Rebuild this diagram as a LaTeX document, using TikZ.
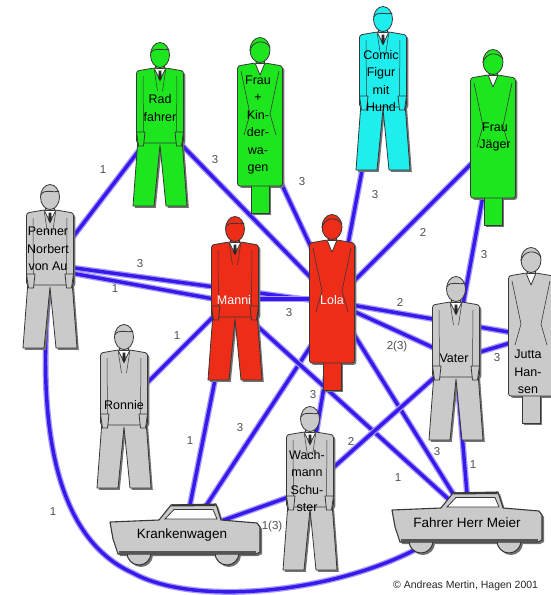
\documentclass[tikz,border=0pt]{standalone}
\usepackage{fontspec}
\setmainfont{Liberation Sans}
\pgfdeclarelayer{bg}
\pgfdeclarelayer{edges}
\pgfsetlayers{bg,edges,main}
\definecolor{figgreen}{RGB}{30,230,30}
\definecolor{figcyan}{RGB}{30,238,238}
\definecolor{figred}{RGB}{238,45,25}
\definecolor{figgray}{RGB}{202,202,202}
\definecolor{outlc}{RGB}{55,55,55}
\definecolor{shadowc}{RGB}{115,115,115}
\definecolor{edgec}{RGB}{55,25,235}
\definecolor{edgehalo}{RGB}{165,155,250}
\definecolor{lblc}{RGB}{80,80,80}
\definecolor{tiec}{RGB}{40,40,40}
\tikzset{
  outl/.style={draw=outlc, line width=0.8pt, line join=round},
  figtext/.style={align=center, inner sep=0pt, text=black,
    font=\fontsize{12.5}{17.5}\selectfont},
  redtext/.style={figtext, text=white},
  cartext/.style={inner sep=0pt, text=black, font=\fontsize{13.5}{15}\selectfont},
  lbl/.style={inner sep=0.5pt, text=lblc, font=\fontsize{11.5}{12}\selectfont},
  edge/.style={draw=edgec, line width=3.4pt,
    preaction={draw=edgehalo, line width=6pt}},
  % man in a suit; origin at the top of the head
  pics/man/.style={code={
    \begin{scope}[shift={(1.8,1.8)}]
      \fill[shadowc] (-22,96) -- (-27,163) -- (-6,163) -- (0,102) -- (6,163) -- (27,163) -- (22,96) -- cycle;
      \fill[shadowc, rounded corners=2.5] (-6,25) -- (-23.5,28) -- (-23.5,100) -- (23.5,100) -- (23.5,28) -- (6,25) -- cycle;
    \end{scope}
    \filldraw[fill=#1, outl] (-22,96) -- (-27,163) -- (-6,163) -- (0,102) -- (6,163) -- (27,163) -- (22,96) -- cycle;
    \filldraw[fill=#1, outl, rounded corners=2.5] (-6,25) -- (-23.5,28) -- (-23.5,100) -- (23.5,100) -- (23.5,28) -- (6,25) -- cycle;
    \draw[outl, line width=0.5pt] (-17,33) -- (-16.5,89) (17,33) -- (16.5,89);
    \draw[outl, line width=0.5pt] (-6,25) -- (-2.5,48) (6,25) -- (2.5,48);
    \filldraw[fill=#1, outl] (-23.5,89) -- (-15,89) -- (-16.5,103) -- (-21.5,103) -- cycle;
    \filldraw[fill=#1, outl] (23.5,89) -- (15,89) -- (16.5,103) -- (21.5,103) -- cycle;
    \filldraw[fill=white, outl] (-6,25) -- (0,37) -- (6,25);
    \fill[tiec] (-1.3,27.5) -- (1.3,27.5) -- (1.7,35) -- (0,38.5) -- (-1.7,35) -- cycle;
    \filldraw[fill=#1, outl] (-4.5,19) rectangle (4.5,25.5);
    \filldraw[fill=#1, outl] (0,12) ellipse [x radius=9.5, y radius=12.5];
    \draw[outl] (-9.3,10) .. controls (-5,3) and (2,8.5) .. (9.2,6);
  }},
  % woman in a dress; origin at the top of the head
  pics/woman/.style={code={
    \begin{scope}[shift={(1.8,1.8)}]
      \fill[shadowc] (-9,140) rectangle (9,175);
      \fill[shadowc, rounded corners=2.5] (-5,25) -- (-22.5,28) -- (-22.5,148) -- (22.5,148) -- (22.5,28) -- (5,25) -- cycle;
    \end{scope}
    \filldraw[fill=#1, outl] (-9,140) rectangle (9,175);
    \filldraw[fill=#1, outl, rounded corners=2.5] (-5,25) -- (-22.5,28) -- (-22.5,148) -- (22.5,148) -- (22.5,28) -- (5,25) -- cycle;
    \draw[outl, line width=0.6pt] (-19,33) -- (-10,76) -- (-16,97) (19,33) -- (10,76) -- (16,97);
    \filldraw[fill=white, outl] (-5,25) -- (0,37) -- (5,25);
    \filldraw[fill=#1, outl] (-4,19) rectangle (4,25.5);
    \filldraw[fill=#1, outl] (0,12) ellipse [x radius=10, y radius=12.5];
    \draw[outl] (-10,13) .. controls (-8,3) and (4,0.5) .. (10,9);
  }},
  % car; origin at the left end of the roof line level
  pics/car/.style={code={
    \begin{scope}[shift={(2,2)}]
      \fill[shadowc] (29,49) circle [radius=12] (117,49) circle [radius=12];
      \fill[shadowc] (0,18) -- (49,16) -- (61,1) -- (106,0) -- (111,16) -- (147,19) -- (150,23) -- (150,48) -- (146,50) -- (8,50) -- (3,35) -- cycle;
    \end{scope}
    \filldraw[fill=#1, draw=outlc, line width=1pt] (29,49) circle [radius=12] (117,49) circle [radius=12];
    \filldraw[fill=#1, draw=outlc, line width=1.1pt, line join=round] (0,18) -- (49,16) -- (61,1) -- (106,0) -- (111,16) -- (147,19) -- (150,23) -- (150,48) -- (146,50) -- (8,50) -- (3,35) -- cycle;
    \filldraw[fill=white, draw=outlc, line width=0.8pt] (55,15) -- (64,5.5) -- (103,5.5) -- (107,15) -- cycle;
    \draw[outlc, line width=2pt] (61.5,1.5) -- (105.5,1);
    \draw[outlc!85, line width=2.5pt] (9,48.3) -- (146,48.3);
  }},
}
\begin{document}
\begin{tikzpicture}[x=1pt, y=-1pt]
\useasboundingbox (0,0) rectangle (550,595);
\begin{pgfonlayer}{bg}
  \fill[white] (0,0) rectangle (550,595);
\end{pgfonlayer}

% figures
\pic at (160,43)  {man=figgreen};
\pic at (260,38)  {woman=figgreen};
\pic at (383,7)   {man=figcyan};
\pic at (493,50)  {woman=figgreen};
\pic at (50,185)  {man=figgray};
\pic at (235,217) {man=figred};
\pic at (332,215) {woman=figred};
\pic at (124,325) {man=figgray};
\pic at (456,277) {man=figgray};
\pic at (531,248) {woman=figgray};
\pic at (310,407) {man=figgray};
\pic at (110,504) {car=figgray};
\pic at (392,492) {car=figgray};

% names
\node[figtext] (rad)     at (160,108) {Rad\\fahrer};
\node[figtext] (frau)    at (258,125) {Frau\\+\\Kin-\\der-\\wa-\\gen};
\node[figtext] (comic)   at (381,81)  {Comic\\Figur\\mit\\Hund};
\node[figtext] (jaeger)  at (495,137) {Frau\\Jäger};
\node[figtext] (penner)  at (48,249)  {Penner\\Norbert\\von Au};
\node[redtext] (manni)   at (234,300) {Manni};
\node[redtext] (lola)    at (332,300) {Lola};
\node[figtext] (ronnie)  at (124,405) {Ronnie};
\node[figtext] (vater)   at (454,358) {Vater};
\node[figtext] (jutta)   at (528,372) {Jutta\\Han-\\sen};
\node[figtext] (wach)    at (307,481) {Wach-\\mann\\Schu-\\ster};
\node[cartext] (kranken) at (182,535) {Krankenwagen};
\node[cartext] (meier)   at (467,523) {Fahrer Herr Meier};
\node[anchor=west, inner sep=0pt, text=black!85, font=\fontsize{10.5}{11}\selectfont] (copy) at (393,586) {© Andreas Mertin, Hagen 2001};

\begin{pgfonlayer}{edges}
  \draw[edge] ([shift={(-10,28)}]rad.center) -- ([shift={(12,5)}]penner.center);
  \draw[edge] ([shift={(10,25)}]rad.center) -- ([shift={(-14,-15)}]lola.center);
  \draw[edge] ([shift={(17,45)}]frau.center) -- ([shift={(-14,-38)}]lola.center);
  \draw[edge] ([shift={(-17,79)}]comic.center) -- ([shift={(13,-40)}]lola.center);
  \draw[edge] ([shift={(-15,18)}]jaeger.center) -- ([shift={(13,-10)}]lola.center);
  \draw[edge] ([shift={(-10,48)}]jaeger.center) -- ([shift={(8,-48)}]vater.center);
  \draw[edge] ([shift={(12,17)}]penner.center) -- ([shift={(-7,2)}]lola.center);
  \draw[edge] ([shift={(12,22)}]penner.center) -- ([shift={(-9,1)}]manni.center);
  \draw[edge] ([shift={(11,-1)}]manni.center) -- ([shift={(-12,-1)}]lola.center);
  \draw[edge] ([shift={(-12,8)}]manni.center) -- ([shift={(16,-15)}]ronnie.center);
  \draw[edge] ([shift={(-16,65)}]manni.center) -- ([shift={(6,-20)}]kranken.center);
  \draw[edge] ([shift={(-12,32)}]lola.center) -- ([shift={(18,-20)}]kranken.center);
  \draw[edge] ([shift={(-6,75)}]lola.center) -- ([shift={(8,-41)}]wach.center);
  \draw[edge] ([shift={(11,15)}]manni.center) -- ([shift={(-12,-18)}]meier.center);
  \draw[edge] ([shift={(13,20)}]lola.center) -- ([shift={(-10,-23)}]meier.center);
  \draw[edge] ([shift={(8,3)}]lola.center) -- ([shift={(-8,-38)}]jutta.center);
  \draw[edge] ([shift={(8,5)}]lola.center) -- ([shift={(-9,-5)}]vater.center);
  \draw[edge] ([shift={(16,-3)}]vater.center) -- ([shift={(-8,-32)}]jutta.center);
  \draw[edge] ([shift={(18,-6)}]wach.center) -- ([shift={(-9,10)}]vater.center);
  \draw[edge] ([shift={(3,17)}]vater.center) -- ([shift={(1,-18)}]meier.center);
  \draw[edge] ([shift={(-7,12)}]wach.center) -- ([shift={(28,-10)}]kranken.center);
  \draw[edge] ([shift={(2,26)}]penner.center) .. controls (32,460) and (70,545) .. (133,573)
              .. controls (200,610) and (360,590) .. ([shift={(-27,12)}]meier.center);

  % weights
  \node[lbl] (w1)  at (103,170) {1};
  \node[lbl] (w2)  at (215,160) {3};
  \node[lbl] (w3)  at (302,182) {3};
  \node[lbl] (w4)  at (375,195) {3};
  \node[lbl] (w5)  at (423,232) {2};
  \node[lbl] (w6)  at (484,255) {3};
  \node[lbl] (w7)  at (140,264) {3};
  \node[lbl] (w8)  at (115,289) {1};
  \node[lbl] (w9)  at (289,313) {3};
  \node[lbl] (w10) at (177,336) {1};
  \node[lbl] (w11) at (190,441) {1};
  \node[lbl] (w12) at (240,428) {3};
  \node[lbl] (w13) at (313,395) {3};
  \node[lbl] (w14) at (398,478) {1};
  \node[lbl] (w15) at (437,452) {3};
  \node[lbl] (w16) at (400,302) {2};
  \node[lbl] (w17) at (397,347) {2(3)};
  \node[lbl] (w18) at (497,358) {3};
  \node[lbl] (w19) at (351,441) {2};
  \node[lbl] (w20) at (473,465) {1};
  \node[lbl] (w21) at (272,527) {1(3)};
  \node[lbl] (w22) at (53,512)  {1};
\end{pgfonlayer}
\end{tikzpicture}
\end{document}
